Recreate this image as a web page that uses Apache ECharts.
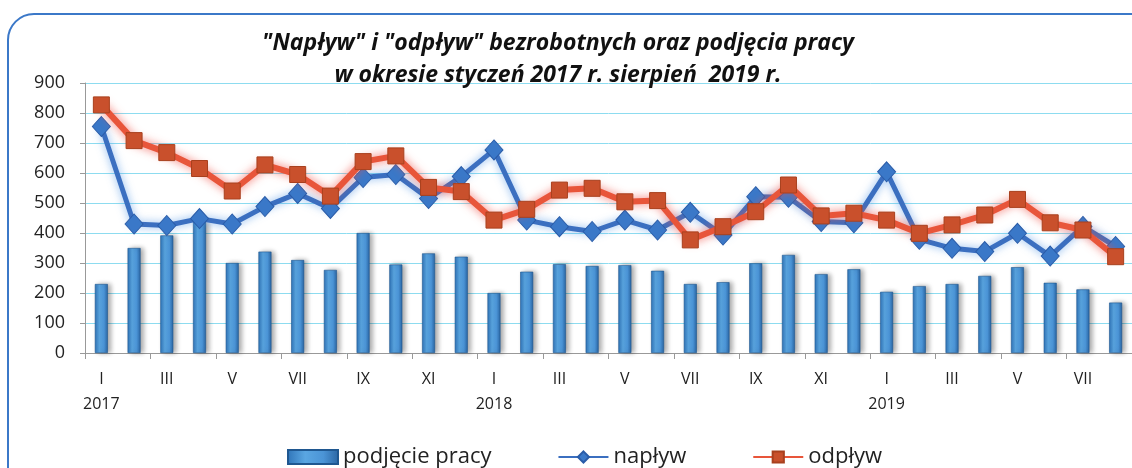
<!DOCTYPE html>
<html>
<head>
<meta charset="utf-8">
<script src="https://cdn.jsdelivr.net/npm/echarts@6/dist/echarts.min.js"></script>
<style>
    html, body { margin: 0; padding: 0; background: #fff; }
    #chart { width: 1132px; height: 468px; }
</style>
</head>
<body>
<div id="chart"></div>
<script>
// miesiące i lata
var months = ['I', 'II', 'III', 'IV', 'V', 'VI', 'VII', 'VIII', 'IX', 'X', 'XI', 'XII'];
var years = ['2017', '2018', '2019'];
var yTicks = [0, 100, 200, 300, 400, 500, 600, 700, 800, 900];

// styczeń 2017 - sierpień 2019
var podjecie = [230, 350, 392, 438, 300, 338, 310, 277, 400, 295, 332, 321,
                200, 271, 296, 290, 293, 274, 230, 236, 299, 327, 263, 279,
                204, 223, 230, 257, 286, 234, 212, 168];
var naplyw = [755, 430, 425, 448, 430, 488, 532, 482, 585, 595, 515, 588,
              677, 443, 421, 405, 443, 410, 469, 393, 521, 519, 438, 434,
              604, 379, 349, 338, 399, 323, 422, 355];
var odplyw = [827, 708, 668, 615, 540, 627, 595, 523, 638, 657, 552, 538,
              443, 479, 543, 549, 504, 508, 377, 421, 471, 560, 457, 466,
              443, 399, 427, 460, 512, 434, 410, 321];

var cats = [];
for (var i = 0; i < podjecie.length; i++) {
    var m = i % 12;
    cats.push(m === 0 ? months[m] + '\n' + years[i / 12] : months[m]);
}

var chart = echarts.init(document.getElementById('chart'));
var font = '"Open Sans", "Noto Sans", sans-serif';

var option = {
    animation: false,
    textStyle: { fontFamily: font },
    graphic: [{
        type: 'rect',
        shape: { x: 8, y: 14, width: 1200, height: 520, r: 26 },
        style: { fill: 'none', stroke: '#3b78c8', lineWidth: 2 },
        z: -10
    }],
    title: {
        text: '"Napływ" i "odpływ" bezrobotnych oraz podjęcia pracy\nw okresie styczeń 2017 r. sierpień  2019 r.',
        left: 553,
        textAlign: 'center',
        top: 22,
        textStyle: {
            fontFamily: font,
            fontSize: 23,
            fontWeight: 'bold',
            fontStyle: 'italic',
            lineHeight: 32,
            color: '#111'
        }
    },
    legend: {
        top: 441,
        left: 282,
        itemGap: 66,
        itemWidth: 50,
        itemHeight: 14,
        textStyle: { fontSize: 22, color: '#222', fontFamily: font },
        data: [
            { name: 'podjęcie pracy', icon: 'rect' },
            { name: 'napływ' },
            { name: 'odpływ' }
        ]
    },
    grid: { left: 85, top: 83, width: 1050, height: 270 },
    xAxis: {
        type: 'category',
        data: cats,
        axisLine: { lineStyle: { color: '#999' } },
        axisTick: { show: true, length: 6, lineStyle: { color: '#999' } },
        axisLabel: {
            interval: 1,
            color: '#222',
            fontSize: 16,
            lineHeight: 25,
            margin: 14,
            verticalAlign: 'top'
        }
    },
    yAxis: {
        type: 'value',
        min: yTicks[0],
        max: yTicks[yTicks.length - 1],
        interval: 100,
        axisLine: { show: true, lineStyle: { color: '#999' } },
        axisTick: { show: true, length: 5, lineStyle: { color: '#999' } },
        axisLabel: { color: '#222', fontSize: 18, margin: 20 },
        splitLine: { lineStyle: { color: '#8ddcf0', width: 1 } }
    },
    series: [
        {
            name: 'podjęcie pracy',
            type: 'bar',
            barWidth: 13,
            data: podjecie,
            itemStyle: {
                color: new echarts.graphic.LinearGradient(0, 0, 1, 0, [
                    { offset: 0, color: '#2f74b8' },
                    { offset: 0.35, color: '#5aa6e2' },
                    { offset: 0.7, color: '#4b94d6' },
                    { offset: 1, color: '#2a65a3' }
                ]),
                borderColor: '#1f5790',
                borderWidth: 0.6,
                shadowColor: 'rgba(0,0,0,0.35)',
                shadowBlur: 5,
                shadowOffsetX: 3,
                shadowOffsetY: 0
            },
            z: 1
        },
        {
            name: 'napływ',
            type: 'line',
            data: naplyw,
            symbol: 'diamond',
            symbolSize: [18, 20],
            lineStyle: {
                color: '#3b6fc0',
                width: 5,
                shadowColor: 'rgba(80,150,230,0.7)',
                shadowBlur: 8
            },
            itemStyle: { color: '#3a78c8', borderColor: '#2a5ca8', borderWidth: 1 },
            z: 3
        },
        {
            name: 'odpływ',
            type: 'line',
            data: odplyw,
            symbol: 'rect',
            symbolSize: 16,
            lineStyle: {
                color: '#e8553a',
                width: 6,
                shadowColor: 'rgba(240,80,70,0.8)',
                shadowBlur: 10
            },
            itemStyle: { color: '#c9502c', borderColor: '#a8401e', borderWidth: 1 },
            z: 4
        }
    ]
};
chart.setOption(option);
</script>
</body>
</html>
